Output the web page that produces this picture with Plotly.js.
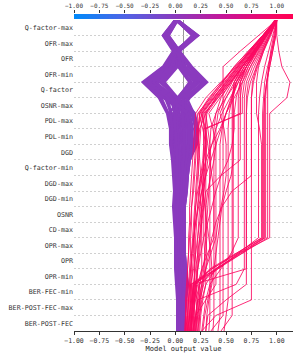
<!DOCTYPE html>
<html>
<head>
<meta charset="utf-8">
<script src="https://cdn.plot.ly/plotly-3.0.1.min.js"></script>
<style>html,body{margin:0;padding:0;background:#fff;}#chart{width:299px;height:355px;}</style>
</head>
<body>
<div id="chart"></div>
<script>
// Features, bottom (position 0.5) to top (position 19.5)
const features = ["BER-POST-FEC","BER-POST-FEC-max","BER-FEC-min","OPR-min","OPR","OPR-max","CD-max","OSNR","DGD-min","DGD-max","Q-factor-min","DGD","PDL-min","PDL-max","OSNR-max","Q-factor","OFR-min","OFR","OFR-max","Q-factor-max"];
const xTicks = [-1.0,-0.75,-0.5,-0.25,0.0,0.25,0.5,0.75,1.0];
const xMin = -1.0, xMax = 1.16;
const baseValue = 0.08;

// Cumulative model output at each level, bottom (level 0) to top (level 20)
const purpleLines = [
 [0.02,0.02,0.02,0.01,0.00,0.00,0.00,-0.01,-0.02,-0.01,-0.02,-0.03,-0.05,-0.05,-0.08,-0.16,-0.32,-0.12,-0.02,-0.12,0.00],
 [0.03,0.03,0.03,0.03,0.02,0.01,0.01,0.00,0.00,0.01,0.00,-0.01,-0.02,-0.02,-0.04,-0.10,-0.29,-0.09,0.00,0.19,0.01],
 [0.04,0.04,0.05,0.05,0.04,0.03,0.03,0.02,0.02,0.03,0.03,0.03,0.02,0.01,0.00,-0.05,-0.25,-0.06,0.01,-0.10,0.01],
 [0.05,0.05,0.06,0.07,0.05,0.05,0.04,0.04,0.04,0.05,0.05,0.06,0.06,0.05,0.04,0.00,-0.20,-0.03,0.01,0.20,0.01],
 [0.06,0.06,0.07,0.08,0.07,0.06,0.06,0.05,0.06,0.07,0.07,0.08,0.10,0.10,0.08,0.02,-0.15,0.00,0.02,-0.09,0.00],
 [0.07,0.07,0.08,0.10,0.08,0.07,0.07,0.07,0.07,0.08,0.09,0.10,0.14,0.15,0.12,0.02,-0.11,0.02,0.02,0.17,0.01],
 [0.08,0.08,0.09,0.11,0.09,0.08,0.08,0.08,0.08,0.10,0.11,0.13,0.18,0.20,0.16,0.03,0.14,0.03,0.02,-0.08,0.01],
 [0.09,0.09,0.10,0.12,0.10,0.09,0.09,0.09,0.09,0.11,0.12,0.14,0.21,0.22,0.19,0.06,0.19,0.07,0.03,0.21,0.02],
 [0.02,0.03,0.03,0.02,0.01,0.01,0.01,0.00,-0.01,0.00,-0.01,-0.02,-0.03,-0.04,-0.06,0.05,0.24,0.10,0.03,-0.11,0.01],
 [0.03,0.04,0.04,0.04,0.03,0.02,0.02,0.01,0.01,0.02,0.01,0.00,0.00,-0.01,-0.02,0.10,0.27,0.13,0.04,0.22,0.02],
 [0.04,0.05,0.06,0.06,0.05,0.04,0.04,0.03,0.03,0.04,0.04,0.04,0.04,0.03,0.02,0.14,0.31,0.16,0.04,-0.07,0.02],
 [0.05,0.06,0.07,0.08,0.06,0.05,0.05,0.05,0.05,0.06,0.06,0.07,0.08,0.07,0.06,0.12,0.29,0.14,0.03,0.18,0.01],
 [0.06,0.07,0.08,0.09,0.08,0.07,0.06,0.06,0.06,0.08,0.08,0.09,0.12,0.12,0.10,-0.12,-0.30,-0.10,-0.01,-0.11,0.00],
 [0.07,0.08,0.09,0.10,0.09,0.08,0.08,0.07,0.07,0.09,0.10,0.12,0.16,0.17,0.14,-0.06,-0.27,-0.07,0.00,0.20,0.01],
 [0.08,0.09,0.10,0.11,0.10,0.09,0.08,0.08,0.08,0.10,0.11,0.13,0.19,0.21,0.17,-0.02,-0.23,-0.05,0.01,-0.09,0.01],
 [0.09,0.09,0.10,0.12,0.10,0.09,0.09,0.09,0.09,0.11,0.12,0.14,0.20,0.22,0.18,0.01,-0.13,0.01,0.02,0.18,0.01],
 [0.03,0.03,0.04,0.04,0.03,0.02,0.02,0.01,0.00,0.01,0.00,-0.01,-0.04,-0.04,-0.07,-0.14,-0.31,-0.11,-0.01,0.21,0.00],
 [0.05,0.05,0.05,0.06,0.05,0.04,0.04,0.03,0.03,0.04,0.04,0.04,0.03,0.02,0.01,0.02,0.16,0.04,0.02,0.19,0.01],
 [0.06,0.06,0.07,0.09,0.07,0.06,0.05,0.05,0.05,0.06,0.07,0.08,0.09,0.08,0.07,0.08,0.22,0.09,0.03,-0.10,0.01],
 [0.08,0.08,0.09,0.11,0.09,0.08,0.07,0.07,0.08,0.09,0.10,0.11,0.15,0.16,0.13,-0.08,-0.18,-0.02,0.01,0.17,0.01],
 [0.04,0.04,0.04,0.05,0.04,0.03,0.03,0.02,0.02,0.03,0.02,0.02,0.01,0.00,-0.01,0.04,0.20,0.06,0.02,-0.08,0.01],
 [0.07,0.07,0.08,0.10,0.09,0.07,0.07,0.06,0.07,0.08,0.09,0.11,0.13,0.14,0.11,-0.04,-0.22,-0.04,0.01,0.22,0.02],
 [0.02,0.02,0.03,0.02,0.02,0.01,0.00,0.00,-0.01,-0.01,-0.01,-0.02,-0.04,-0.03,-0.05,-0.07,-0.26,-0.08,0.00,-0.12,0.00],
 [0.09,0.09,0.10,0.11,0.10,0.09,0.09,0.08,0.09,0.10,0.12,0.13,0.20,0.21,0.18,0.11,0.28,0.14,0.04,-0.07,0.02]
];

const pinkLines = [
 [0.13,0.14,0.15,0.16,0.17,0.18,0.18,0.19,0.20,0.21,0.22,0.23,0.24,0.25,0.27,0.39,0.51,0.63,0.75,0.87,0.99],
 [0.16,0.16,0.18,0.20,0.21,0.22,0.22,0.23,0.24,0.26,0.28,0.30,0.31,0.30,0.25,0.37,0.50,0.62,0.74,0.86,0.98],
 [0.19,0.20,0.22,0.24,0.27,0.30,0.31,0.31,0.32,0.33,0.34,0.35,0.34,0.32,0.30,0.40,0.52,0.64,0.76,0.88,1.00],
 [0.11,0.11,0.12,0.13,0.14,0.15,0.15,0.16,0.16,0.17,0.18,0.19,0.20,0.21,0.22,0.35,0.48,0.61,0.74,0.87,1.00],
 [0.21,0.22,0.24,0.26,0.28,0.29,0.30,0.30,0.30,0.32,0.35,0.38,0.40,0.37,0.33,0.44,0.55,0.66,0.78,0.89,1.00],
 [0.14,0.15,0.17,0.19,0.19,0.20,0.20,0.21,0.22,0.23,0.25,0.27,0.28,0.28,0.28,0.42,0.54,0.66,0.78,0.88,0.98],
 [0.10,0.10,0.11,0.12,0.12,0.13,0.13,0.14,0.14,0.15,0.16,0.17,0.18,0.19,0.20,0.30,0.45,0.60,0.74,0.87,0.99],
 [0.12,0.13,0.14,0.15,0.16,0.16,0.17,0.18,0.19,0.20,0.21,0.22,0.23,0.23,0.24,0.36,0.47,0.58,0.72,0.86,1.00],
 [0.17,0.18,0.19,0.21,0.22,0.24,0.25,0.26,0.27,0.28,0.29,0.30,0.30,0.29,0.26,0.38,0.49,0.61,0.73,0.86,0.99],
 [0.13,0.14,0.15,0.15,0.40,0.65,0.91,0.91,0.91,0.91,0.91,0.91,0.91,0.91,0.91,0.91,0.91,0.92,0.94,0.97,1.00],
 [0.16,0.17,0.18,0.18,0.42,0.66,0.88,0.88,0.88,0.88,0.88,0.88,0.88,0.88,0.88,0.88,0.90,0.93,0.96,0.99,1.00],
 [0.20,0.21,0.21,0.20,0.34,0.60,0.86,0.86,0.86,0.86,0.86,0.86,0.86,0.86,0.86,0.87,0.88,0.91,0.95,0.98,1.00],
 [0.15,0.16,0.17,0.17,0.40,0.64,0.93,0.93,0.93,0.93,0.93,0.93,0.93,0.93,0.93,1.10,1.13,1.05,1.02,1.00,1.00],
 [0.18,0.19,0.19,0.19,0.36,0.61,0.85,0.85,0.85,0.85,0.85,0.85,0.85,0.83,0.80,0.80,0.80,0.82,0.87,0.93,1.00],
 [0.22,0.23,0.24,0.24,0.42,0.62,0.82,0.82,0.82,0.82,0.82,0.82,0.82,0.82,0.82,0.83,0.85,0.88,0.92,0.96,1.00],
 [0.26,0.40,0.75,0.75,0.75,0.75,0.75,0.75,0.75,0.75,0.75,0.75,0.75,0.75,0.75,0.75,0.76,0.80,0.86,0.93,1.00],
 [0.30,0.32,0.50,0.70,0.70,0.70,0.70,0.70,0.70,0.70,0.70,0.70,0.70,0.70,0.70,0.70,0.72,0.78,0.85,0.92,1.00],
 [0.15,0.16,0.17,0.18,0.20,0.22,0.24,0.26,0.28,0.30,0.45,0.64,0.64,0.64,0.64,0.64,0.66,0.72,0.80,0.90,1.00],
 [0.22,0.24,0.26,0.30,0.40,0.57,0.57,0.57,0.57,0.57,0.57,0.57,0.57,0.57,0.57,0.57,0.58,0.66,0.77,0.88,1.00],
 [0.35,0.47,0.47,0.47,0.47,0.47,0.47,0.47,0.47,0.47,0.47,0.47,0.47,0.47,0.47,0.47,0.47,0.47,0.64,0.82,1.00],
 [0.48,0.50,0.52,0.52,0.52,0.52,0.52,0.52,0.52,0.52,0.52,0.52,0.52,0.52,0.53,0.56,0.60,0.70,0.80,0.90,1.00],
 [0.42,0.44,0.44,0.44,0.44,0.44,0.44,0.44,0.44,0.44,0.44,0.44,0.44,0.46,0.50,0.58,0.66,0.74,0.83,0.91,1.00],
 [0.33,0.34,0.34,0.34,0.34,0.34,0.34,0.34,0.34,0.34,0.34,0.34,0.34,0.35,0.40,0.50,0.60,0.70,0.80,0.90,1.00],
 [0.24,0.25,0.27,0.30,0.30,0.31,0.30,0.30,0.30,0.30,0.30,0.30,0.30,0.30,0.64,0.64,0.64,0.70,0.78,0.88,0.99],
 [0.20,0.22,0.24,0.28,0.29,0.29,0.28,0.28,0.28,0.28,0.28,0.28,0.28,0.28,0.66,0.66,0.68,0.74,0.82,0.90,1.00],
 [0.12,0.14,0.16,0.18,0.70,0.70,0.70,0.70,0.70,0.70,0.70,0.70,0.70,0.70,0.70,0.71,0.74,0.80,0.86,0.93,1.00],
 [0.17,0.20,0.22,0.60,0.68,0.68,0.68,0.68,0.68,0.68,0.68,0.68,0.68,0.68,0.68,0.68,0.70,0.76,0.84,0.92,1.00],
 [0.10,0.12,0.13,0.15,0.18,0.20,0.22,0.24,0.26,0.28,0.30,0.32,0.36,0.44,0.50,0.56,0.62,0.70,0.80,0.90,1.00],
 [0.14,0.16,0.18,0.20,0.22,0.25,0.28,0.32,0.36,0.40,0.45,0.52,0.56,0.58,0.58,0.60,0.64,0.72,0.81,0.90,1.00],
 [0.12,0.12,0.13,0.14,0.15,0.16,0.18,0.20,0.23,0.26,0.30,0.35,0.40,0.45,0.50,0.55,0.60,0.68,0.78,0.89,1.00],
 [0.18,0.20,0.30,0.40,0.40,0.40,0.40,0.40,0.40,0.40,0.40,0.40,0.40,0.40,0.42,0.48,0.56,0.66,0.77,0.88,1.00],
 [0.26,0.28,0.30,0.34,0.45,0.55,0.62,0.62,0.62,0.62,0.62,0.62,0.62,0.62,0.62,0.62,0.64,0.70,0.79,0.89,1.00],
 [0.14,0.15,0.16,0.16,0.36,0.62,0.89,0.89,0.89,0.89,0.89,0.89,0.89,0.89,0.89,0.89,0.90,0.92,0.95,0.98,1.00],
 [0.19,0.20,0.22,0.23,0.40,0.63,0.87,0.87,0.87,0.87,0.87,0.87,0.87,0.87,0.87,0.88,0.90,0.93,0.96,0.99,1.00],
 [0.11,0.12,0.13,0.14,0.15,0.17,0.18,0.20,0.22,0.24,0.26,0.28,0.30,0.27,0.23,0.33,0.46,0.60,0.73,0.86,0.99],
 [0.16,0.17,0.19,0.21,0.22,0.23,0.24,0.25,0.26,0.27,0.27,0.28,0.29,0.30,0.29,0.41,0.53,0.65,0.77,0.88,1.00],
 [0.30,0.31,0.33,0.36,0.38,0.40,0.42,0.44,0.46,0.50,0.55,0.57,0.57,0.57,0.57,0.57,0.60,0.68,0.78,0.89,1.00],
 [0.23,0.24,0.25,0.27,0.30,0.33,0.36,0.40,0.46,0.56,0.75,0.75,0.75,0.75,0.75,0.75,0.77,0.81,0.87,0.94,1.00],
 [0.37,0.38,0.38,0.38,0.38,0.38,0.38,0.38,0.38,0.38,0.38,0.38,0.38,0.38,0.40,0.45,0.55,0.66,0.78,0.89,1.00],
 [0.45,0.56,0.56,0.56,0.56,0.56,0.56,0.56,0.56,0.56,0.56,0.56,0.56,0.56,0.56,0.56,0.58,0.66,0.77,0.88,1.00],
 [0.20,0.21,0.23,0.26,0.30,0.35,0.40,0.42,0.45,0.48,0.50,0.50,0.50,0.48,0.44,0.50,0.58,0.68,0.79,0.90,1.00],
 [0.15,0.17,0.20,0.24,0.26,0.26,0.26,0.26,0.25,0.24,0.23,0.22,0.22,0.24,0.30,0.40,0.52,0.64,0.76,0.88,1.00],
 [0.27,0.29,0.32,0.35,0.36,0.35,0.33,0.31,0.29,0.27,0.25,0.24,0.23,0.22,0.26,0.38,0.50,0.62,0.75,0.87,0.99],
 [0.12,0.14,0.16,0.18,0.19,0.19,0.19,0.19,0.20,0.22,0.26,0.30,0.36,0.40,0.46,0.54,0.62,0.70,0.79,0.89,1.00],
 [0.18,0.18,0.19,0.22,0.26,0.32,0.38,0.38,0.38,0.38,0.36,0.34,0.32,0.30,0.31,0.42,0.54,0.66,0.78,0.89,1.00],
 [0.09,0.10,0.10,0.11,0.12,0.13,0.14,0.15,0.16,0.18,0.19,0.20,0.21,0.22,0.24,0.34,0.46,0.58,0.72,0.86,1.00]
];

const purpleColor = 'rgb(138,58,190)';
const pinkColor = 'rgb(252,8,98)';
const cScale = [[0,'rgb(0,138,250)'],[0.23,'rgb(80,100,230)'],[0.46,'rgb(138,58,190)'],[0.69,'rgb(200,20,150)'],[0.93,'rgb(250,5,95)'],[1,'rgb(255,0,82)']];

const levels = [];
for (let i = 0; i <= features.length; i++) levels.push(i);
const featPos = features.map((f, i) => i + 0.5);

const traces = [];
purpleLines.forEach(v => traces.push({type:'scatter', mode:'lines', x:v, y:levels, line:{color:purpleColor, width:2.8}, opacity:1, hoverinfo:'skip'}));
pinkLines.forEach(v => traces.push({type:'scatter', mode:'lines', x:v, y:levels, line:{color:pinkColor, width:1}, opacity:0.85, hoverinfo:'skip'}));
// colorbar strip at top
traces.push({type:'heatmap', x:[xMin, xMax], y:[0.5], z:[[xMin, xMax]], zmin:xMin, zmax:xMax, colorscale:cScale, zsmooth:'best', showscale:false, xaxis:'x2', yaxis:'y2', hoverinfo:'skip'});

const fnt = {family:'DejaVu Sans Mono, monospace', size:7, color:'#333'};
const layout = {
  width:299, height:355,
  margin:{l:74, r:6, t:10, b:24},
  paper_bgcolor:'#fff', plot_bgcolor:'#fff',
  showlegend:false,
  font:fnt,
  xaxis:{range:[xMin,xMax], tickvals:xTicks, tickformat:'.2f', ticks:'outside', ticklen:3, tickcolor:'#333',
         showline:true, linecolor:'#333', linewidth:1, showgrid:false, zeroline:false, anchor:'y',
         tickfont:{family:fnt.family, size:6.5, color:'#333'},
         title:{text:'Model output value', font:{family:fnt.family, size:7, color:'#222'}, standoff:2}},
  yaxis:{domain:[0,0.9688], range:[0,features.length], tickvals:featPos, ticktext:features, ticks:'',
         showgrid:false, zeroline:false, showline:false, tickfont:{family:fnt.family, size:6.7, color:'#333'},
         minor:{tickmode:'linear', tick0:0, dtick:1, showgrid:true, gridcolor:'#b0b0b0', gridwidth:0.6, griddash:'2px,2px', ticks:''}},
  xaxis2:{anchor:'y2', side:'top', range:[xMin,xMax], tickvals:xTicks, tickformat:'.2f', ticks:'outside', ticklen:3,
          tickcolor:'#333', showline:false, showgrid:false, zeroline:false,
          tickfont:{family:fnt.family, size:6, color:'#333'}},
  yaxis2:{domain:[0.972,0.9875], range:[0,1], visible:false},
  shapes:[{type:'line', xref:'x', yref:'y', x0:baseValue, x1:baseValue, y0:0, y1:features.length, line:{color:'#999', width:1}, layer:'below'}]
};
Plotly.newPlot('chart', traces, layout, {staticPlot:true, displayModeBar:false});
</script>
</body>
</html>
